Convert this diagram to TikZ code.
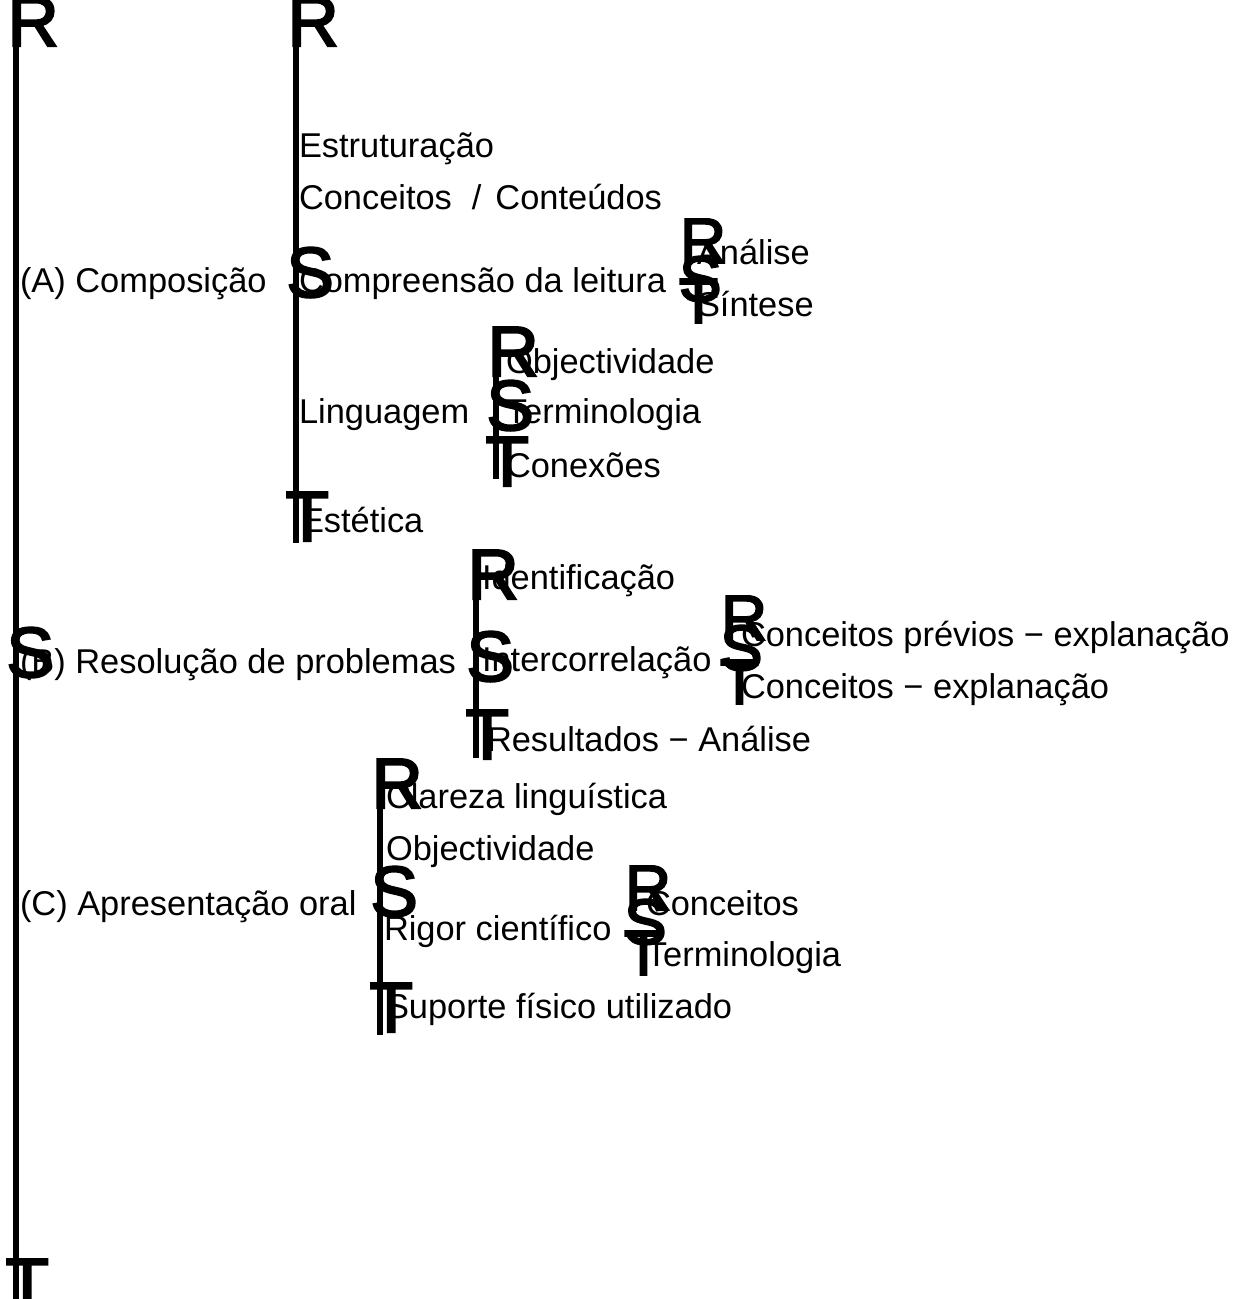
\documentclass[tikz,border=0pt]{standalone}
\usepackage{fontspec}
\setmainfont{Liberation Sans}
\newfontfamily\piecefont[FakeBold=3]{Liberation Sans}
\tikzset{
  piece/.style={inner sep=0pt, outer sep=0pt, anchor=base west, font=\piecefont\fontsize{71}{71}\selectfont},
  smallpiece/.style={piece, font=\piecefont\fontsize{64}{64}\selectfont},
  lbl/.style={inner sep=0pt, outer sep=0pt, anchor=base west, font=\fontsize{34.4}{40}\selectfont},
  bline/.style={line width=5.8pt, line cap=butt},
}
\begin{document}
\begin{tikzpicture}[x=1pt,y=-1pt]
\useasboundingbox (0,0) rectangle (1240,1299);
% ---- brace 1 (outer)
\coordinate (b1top) at (15.9,30); \coordinate (b1bot) at (15.9,1306);
\draw[bline] (b1top) -- (b1bot);
\node[piece] (b1R) at (7.5,46) {R};
\node[piece] (b1S) at (6.5,677) {S};
\node[piece] (b1T) at (5.5,1308) {T};
% ---- brace 2 (A)
\coordinate (b2top) at (295.9,30); \coordinate (b2bot) at (295.9,543);
\draw[bline] (b2top) -- (b2bot);
\node[piece] (b2R) at (287.5,46) {R};
\node[piece] (b2S) at (286.5,297) {S};
\node[piece] (b2T) at (285.5,541) {T};
% ---- brace 3 (Compreensao)
\node[smallpiece] (b3R) at (680,263) {R};
\node[smallpiece] (b3S) at (679,301) {S};
\node[smallpiece] (b3T) at (679,323) {T};
% ---- brace 4 (Linguagem)
\coordinate (b4top) at (495.9,355); \coordinate (b4bot) at (495.9,479);
\draw[bline] (b4top) -- (b4bot);
\node[piece] (b4R) at (487.5,376) {R};
\node[piece] (b4S) at (486.5,430) {S};
\node[piece] (b4T) at (485.5,486) {T};
% ---- brace 5 (B)
\coordinate (b5top) at (475.9,578); \coordinate (b5bot) at (475.9,758);
\draw[bline] (b5top) -- (b5bot);
\node[piece] (b5R) at (467.5,599) {R};
\node[piece] (b5S) at (466.5,681) {S};
\node[piece] (b5T) at (465.5,759) {T};
% ---- brace 6 (Intercorrelacao)
\node[smallpiece] (b6R) at (721,640) {R};
\node[smallpiece] (b6S) at (720,670) {S};
\node[smallpiece] (b6T) at (720,704) {T};
% ---- brace 7 (C)
\coordinate (b7top) at (379.9,790); \coordinate (b7bot) at (379.9,1035);
\draw[bline] (b7top) -- (b7bot);
\node[piece] (b7R) at (371.5,808) {R};
\node[piece] (b7S) at (370.5,916) {S};
\node[piece] (b7T) at (369.5,1032) {T};
% ---- brace 8 (Rigor)
\node[smallpiece] (b8R) at (625,910) {R};
\node[smallpiece] (b8S) at (624,944) {S};
\node[smallpiece] (b8T) at (624,975) {T};
% ---- labels
\node[lbl] (tA) at (20,292) {(A) Composição};
\node[lbl] (tB) at (20,673) {(B) Resolução de problemas};
\node[lbl] (tC) at (20,915) {(C) Apresentação oral};
\node[lbl] (a1) at (299,157) {Estruturação};
\node[lbl] (a2) at (299,209) {Conceitos\hspace{20pt}/\hspace{14pt}Conteúdos};
\node[lbl] (a3) at (299,292) {Compreensão da leitura};
\node[lbl] (a4) at (299,423) {Linguagem};
\node[lbl] (a5) at (301,532) {Estética};
\node[lbl] (c1) at (697,264) {Análise};
\node[lbl] (c2) at (697,316) {Síntese};
\node[lbl] (d1) at (506,373) {Objectividade};
\node[lbl] (d2) at (506,423) {Terminologia};
\node[lbl] (d3) at (506,477) {Conexões};
\node[lbl] (e1) at (482,589) {Identificação};
\node[lbl] (e2) at (482,671) {Intercorrelação};
\node[lbl] (e3) at (487,751) {Resultados − Análise};
\node[lbl] (f1) at (741,646) {Conceitos prévios − explanação};
\node[lbl] (f2) at (741,698) {Conceitos − explanação};
\node[lbl] (g1) at (386,808) {Clareza linguística};
\node[lbl] (g2) at (386,860) {Objectividade};
\node[lbl] (g3) at (384,940) {Rigor científico};
\node[lbl] (g4) at (386,1018) {Suporte físico utilizado};
\node[lbl] (h1) at (646,915) {Conceitos};
\node[lbl] (h2) at (646,966) {Terminologia};
\end{tikzpicture}
\end{document}
